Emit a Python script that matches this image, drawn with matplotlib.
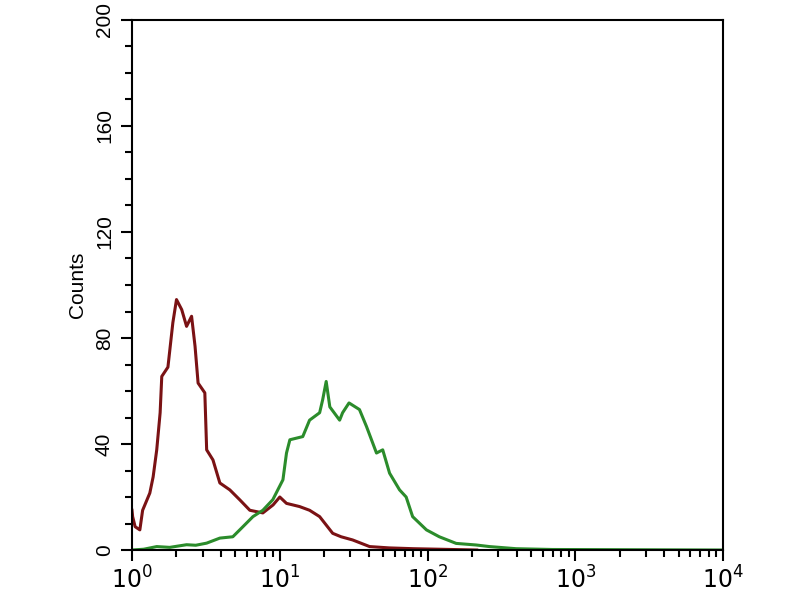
import numpy as np
import matplotlib.pyplot as plt
from matplotlib.ticker import MultipleLocator, LogLocator, NullFormatter

plt.rcParams['font.family'] = ['Liberation Sans', 'DejaVu Sans']

# control (dark red) histogram
red_x = [1.0, 1.01, 1.05, 1.13, 1.18, 1.32, 1.39, 1.47, 1.55, 1.59, 1.75, 1.89, 2.0, 2.17,
         2.34, 2.53, 2.67, 2.8, 3.11, 3.2, 3.53, 3.93, 4.59, 5.37, 6.27, 7.68, 9.0, 10.0,
         11.1, 13.6, 15.9, 18.6, 22.8, 26.0, 31.1, 40.5, 55.0, 80.0, 120.0, 215.0]
red_y = [15, 12.6, 8.8, 7.6, 15, 21.5, 27.6, 37.8, 51.8, 65.5, 69, 85.8, 94.5, 90.7,
         84.4, 88.2, 76.9, 63, 59.3, 37.8, 34, 25.3, 22.7, 18.9, 15, 14, 17, 20,
         17.6, 16.4, 15, 12.6, 6.3, 5, 3.8, 1.3, 0.8, 0.5, 0.3, 0]

# stained sample (green) histogram
green_x = [1.0, 1.2, 1.47, 1.8, 2.34, 2.7, 3.2, 3.93, 4.81, 5.63, 6.58, 7.68, 8.97, 10.5,
           11.1, 11.7, 14.3, 15.9, 18.6, 19.5, 20.6, 21.8, 25.4, 26.6, 29.4, 34.6, 38.6,
           45.1, 49.7, 55.3, 64.6, 71.6, 79.2, 98.2, 120, 156, 213, 262, 397, 700, 10000]
green_y = [0, 0.3, 1.3, 1.0, 2.0, 1.8, 2.6, 4.5, 5.0, 8.8, 12.6, 15, 19, 26.5,
           36.6, 41.6, 42.8, 49, 51.8, 56.7, 63.6, 54, 49, 51.8, 55.5, 53, 46.6,
           36.6, 37.8, 29, 22.7, 20, 12.6, 7.6, 5, 2.5, 1.9, 1.3, 0.5, 0.2, 0]

fig = plt.figure(figsize=(8, 6), dpi=100)
ax = fig.add_axes([0.165, 0.0833, 0.739, 0.8834])

ax.plot(red_x, red_y, color='#7a1214', lw=2.2)
ax.plot(green_x, green_y, color='#2b8c2b', lw=2.2)

ax.set_xscale('log')
ax.set_xlim(1, 10000)
ax.set_ylim(0, 200)

ax.set_xticks([1, 10, 100, 1000, 10000])
ax.set_xticklabels(['$10^{0}$', '$10^{1}$', '$10^{2}$', '$10^{3}$', '$10^{4}$'])
ax.xaxis.set_minor_locator(LogLocator(base=10, subs=np.arange(2, 10)))
ax.xaxis.set_minor_formatter(NullFormatter())

ax.set_yticks([0, 40, 80, 120, 160, 200])
ax.yaxis.set_minor_locator(MultipleLocator(10))

ax.tick_params(which='major', direction='out', length=8, width=1.5, colors='black')
ax.tick_params(which='minor', direction='out', length=5, width=1.5)
ax.tick_params(axis='x', labelsize=17)
ax.tick_params(axis='y', labelsize=15, labelrotation=90, pad=5)
for lab in ax.get_yticklabels():
    lab.set_va('center')

for s in ax.spines.values():
    s.set_linewidth(1.5)

ax.set_ylabel('Counts', fontsize=15, labelpad=6)

fig.savefig('out.png', dpi=100)
